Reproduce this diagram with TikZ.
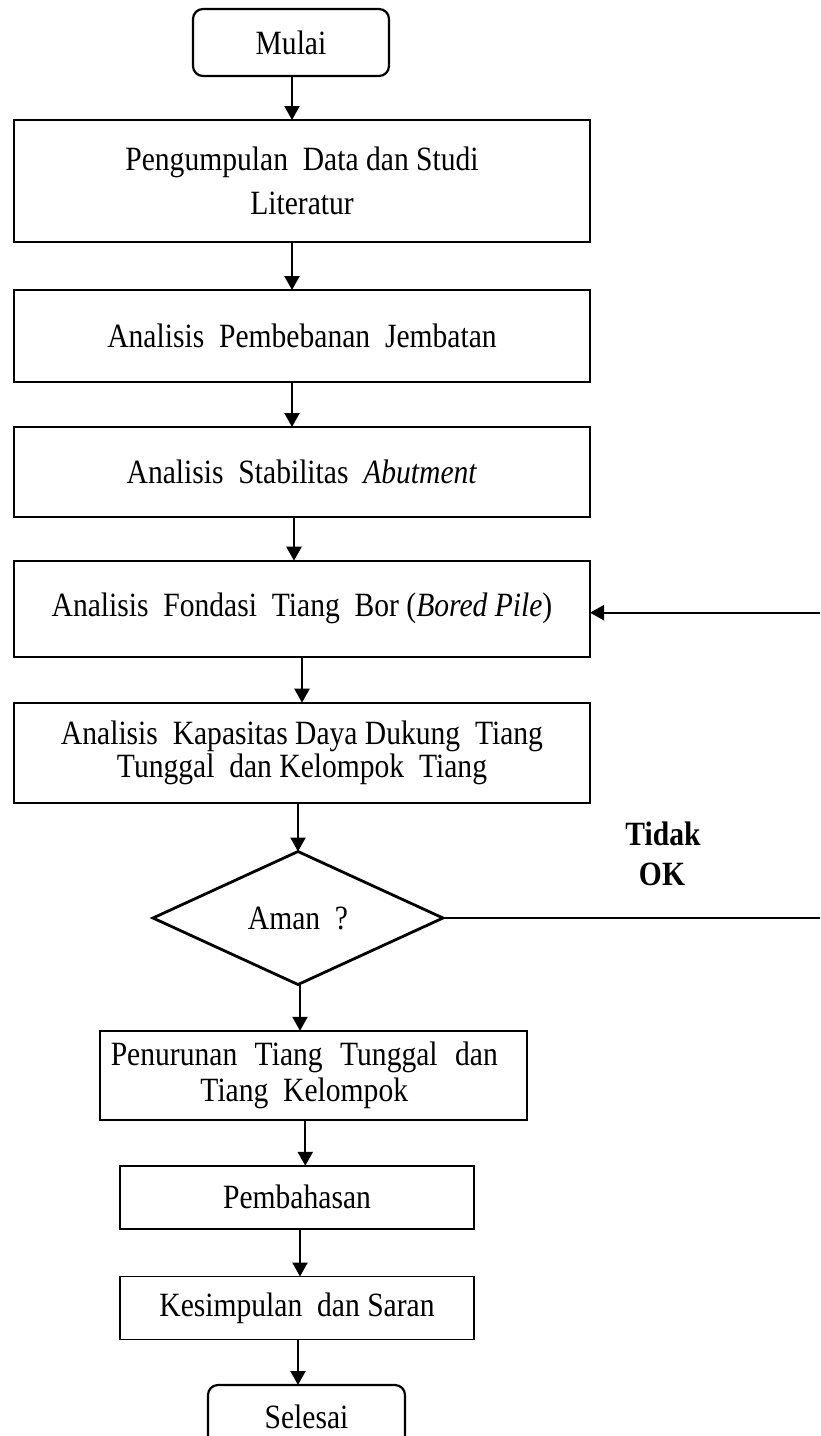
\documentclass[tikz,border=0pt]{standalone}
\usepackage{fontspec}
\setmainfont[FakeStretch=0.87]{Liberation Serif}
\usetikzlibrary{shapes.geometric,arrows.meta}
\newcommand\myfs[1]{\fontsize{34}{#1}\selectfont}
\begin{document}
\begin{tikzpicture}[x=1pt,y=-1pt,
  box/.style={draw,line width=1.8pt,rectangle,inner sep=0pt,outer sep=0pt,align=center,font=\myfs{36}},
  term/.style={draw,line width=2.2pt,rectangle,rounded corners=10pt,inner sep=0pt,outer sep=0pt,font=\myfs{36}},
  decision/.style={draw,line width=2.8pt,diamond,inner sep=0pt,outer sep=0pt,font=\myfs{36}},
  arr/.style={line width=2.2pt,-{Triangle[length=14pt,width=15pt]}},
  plain/.style={line width=2pt},
  lbl/.style={font=\myfs{36}\bfseries,anchor=base,inner sep=0pt}]
\useasboundingbox (0,0) rectangle (820,1436);

\node[term,minimum width=196pt,minimum height=67pt] (mulai) at (291,42.5) {Mulai};
\node[box,minimum width=576pt,minimum height=122pt,font=\myfs{44}] (b1) at (302,181)
  {Pengumpulan\ \ Data dan Studi\\Literatur};
\node[box,minimum width=576pt,minimum height=92pt] (b2) at (302,336)
  {Analisis\ \ Pembebanan\ \ Jembatan};
\node[box,minimum width=576pt,minimum height=90pt] (b3) at (302,472)
  {Analisis\ \ Stabilitas\ \ \textit{Abutment}};
\node[box,minimum width=576pt,minimum height=96pt] (b4) at (302,608.7)
  {Analisis\ \ Fondasi\ \ Tiang\ \ Bor (\textit{Bored Pile})};
\node[box,minimum width=576pt,minimum height=100pt,font=\myfs{33}] (b5) at (302,752.7)
  {Analisis\ \ Kapasitas Daya Dukung\ \ Tiang\\Tunggal\ \ dan Kelompok\ \ Tiang};
\node[decision,minimum width=290pt,minimum height=133pt] (dia) at (298,918) {Aman\ \ ?};
\node[box,minimum width=427pt,minimum height=89pt] (b6) at (313.3,1075.3)
  {\makebox[387pt][s]{Penurunan Tiang Tunggal dan}\hspace*{18pt}\\Tiang\ \ Kelompok\hspace*{18pt}};
\node[box,minimum width=354pt,minimum height=63pt] (b7) at (297,1197.3) {Pembahasan};
\node[box,minimum width=354pt,minimum height=63pt] (b8) at (297,1308) {Kesimpulan\ \ dan Saran};
\node[term,minimum width=197pt,minimum height=64pt] (selesai) at (306.5,1417) {Selesai};

\node[lbl] (tidak) at (663,845) {Tidak};
\node[lbl] (ok) at (662,885) {OK};

\coordinate (r1) at (820,612.7);
\coordinate (r2) at (820,916);

\draw[arr] ([xshift=1pt]mulai.south) -- ([xshift=1pt]mulai.south |- b1.north);
\draw[arr] ([xshift=-10pt]b1.south) -- ([xshift=-10pt]b1.south |- b2.north);
\draw[arr] ([xshift=-10pt]b2.south) -- ([xshift=-10pt]b2.south |- b3.north);
\draw[arr] ([xshift=-8pt]b3.south) -- ([xshift=-8pt]b3.south |- b4.north);
\draw[arr] (b4.south) -- (b4.south |- b5.north);
\draw[arr] (b5.south -| dia.north) -- (dia.north);
\draw[arr] ([xshift=2pt]dia.south) -- ([xshift=2pt]dia.south |- b6.north);
\draw[arr] ([xshift=-8pt]b6.south) -- ([xshift=-8pt]b6.south |- b7.north);
\draw[arr] ([xshift=3pt]b7.south) -- ([xshift=3pt]b7.south |- b8.north);
\draw[arr] ([xshift=1pt]b8.south) -- ([xshift=1pt]b8.south |- selesai.north);
\draw[arr] (r1) -- (r1 -| b4.east);
\draw[plain] (dia.east) -- (dia.east -| r2);
\end{tikzpicture}
\end{document}
